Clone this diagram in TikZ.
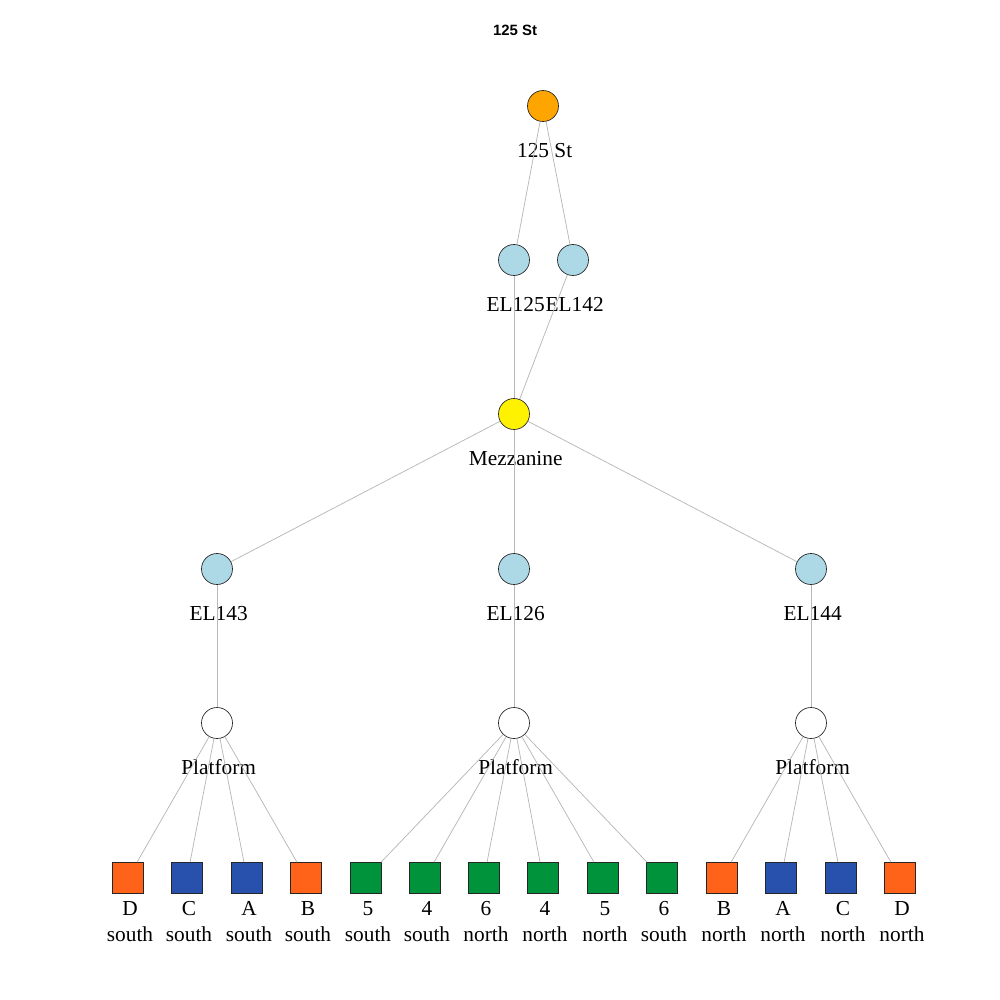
\documentclass[tikz,border=0pt]{standalone}
\usepackage{fontspec}
\usetikzlibrary{calc}
\setmainfont{Liberation Serif}
\newfontfamily\titlefont{Liberation Sans}
\definecolor{edgegray}{HTML}{B8B8B8}
\definecolor{stationorange}{HTML}{FFA500}
\definecolor{elevblue}{HTML}{ADD8E6}
\definecolor{lineorange}{HTML}{FF6319}
\definecolor{lineblue}{HTML}{2850AD}
\definecolor{linegreen}{HTML}{00933C}
\begin{document}
\begin{tikzpicture}[x=0.75pt,y=-0.75pt,
  lab/.style={font=\fontsize{16}{19.5}\selectfont, align=center, inner sep=0pt, anchor=base},
  vtx/.style={circle, draw=black!85, line width=0.5pt, minimum size=23.25pt, inner sep=0pt},
  platsq/.style={rectangle, draw=black!85, line width=0.5pt, minimum size=23.25pt, inner sep=0pt},
  link/.style={draw=edgegray, line width=0.55pt}]
\useasboundingbox (0,0) rectangle (1000,1000);
\fill[white] (0,0) rectangle (1000,1000);

\node[font=\titlefont\bfseries\fontsize{11.2}{13}\selectfont] (title) at (515,30) {125 St};

% station, elevators, mezzanine, platforms
\foreach \n/\c/\x/\y/\t in {
    st/stationorange/543/106/125 St,
    el125/elevblue/514/260/EL125,
    el142/elevblue/573/260/EL142,
    mez/yellow/514/414/Mezzanine,
    el143/elevblue/217/569/EL143,
    el126/elevblue/514/569/EL126,
    el144/elevblue/811/569/EL144,
    pa/white/217/723/Platform,
    pb/white/514/723/Platform,
    pc/white/811/723/Platform} {
  \node[vtx, fill=\c] (\n) at (\x,\y) {};
  \node[lab] (\n-lab) at ($(\n)+(1.7,51)$) {\t};
}

% platform tracks (label base is the second line's baseline)
\foreach \n/\c/\x/\a/\b in {
    s1/lineorange/128/D/south,
    s2/lineblue/187/C/south,
    s3/lineblue/247/A/south,
    s4/lineorange/306/B/south,
    s5/linegreen/366/5/south,
    s6/linegreen/425/4/south,
    s7/linegreen/484/6/north,
    s8/linegreen/543/4/north,
    s9/linegreen/603/5/north,
    s10/linegreen/662/6/south,
    s11/lineorange/722/B/north,
    s12/lineblue/781/A/north,
    s13/lineblue/841/C/north,
    s14/lineorange/900/D/north} {
  \node[platsq, fill=\c] (\n) at (\x,878) {};
  \node[lab] (\n-lab) at ($(\n)+(2,63)$) {\a\\\b};
}

% connectors
\draw[link] (st) -- (el125);
\draw[link] (st) -- (el142);
\draw[link] (el125) -- (mez);
\draw[link] (el142) -- (mez);
\draw[link] (mez) -- (el143);
\draw[link] (mez) -- (el126);
\draw[link] (mez) -- (el144);
\draw[link] (el143) -- (pa);
\draw[link] (el126) -- (pb);
\draw[link] (el144) -- (pc);
\foreach \s in {s1,s2,s3,s4} \draw[link] (pa) -- (\s);
\foreach \s in {s5,s6,s7,s8,s9,s10} \draw[link] (pb) -- (\s);
\foreach \s in {s11,s12,s13,s14} \draw[link] (pc) -- (\s);
\end{tikzpicture}
\end{document}
